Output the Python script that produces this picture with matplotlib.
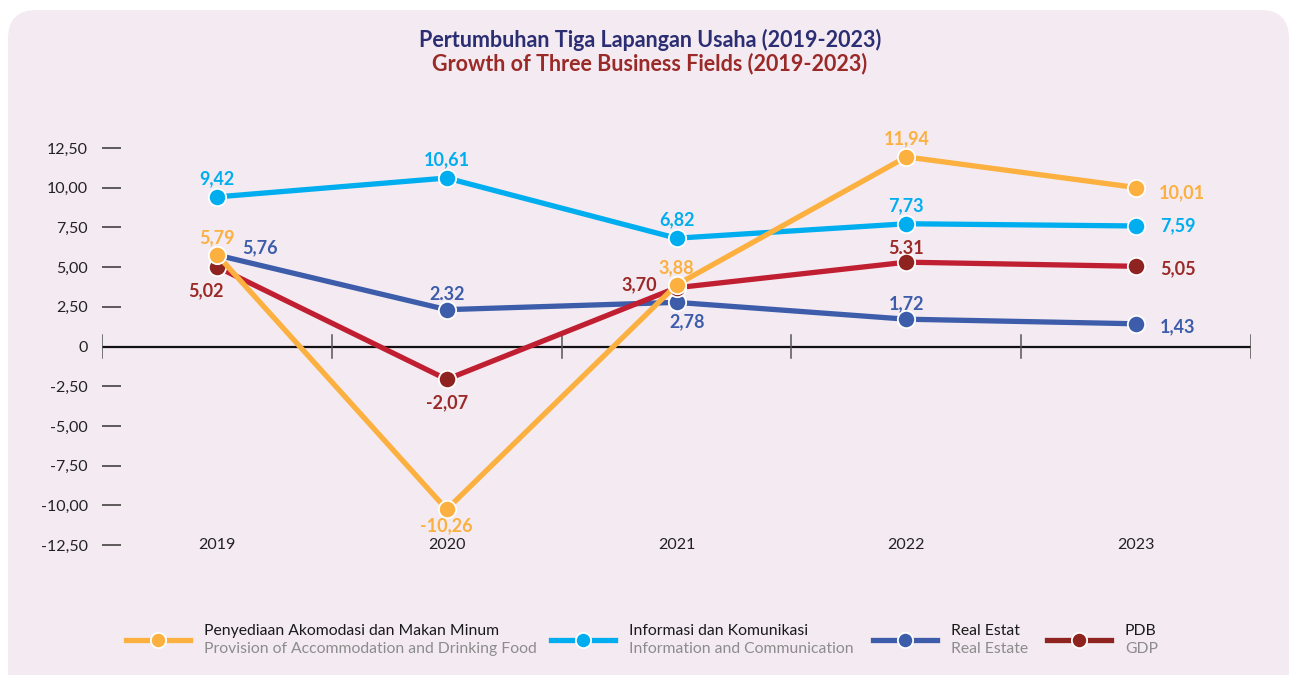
import matplotlib.pyplot as plt
from matplotlib.patches import FancyBboxPatch
from matplotlib.lines import Line2D

plt.rcParams['font.family'] = ['Lato', 'DejaVu Sans']

years = ['2019', '2020', '2021', '2022', '2023']
akomodasi = [5.79, -10.26, 3.88, 11.94, 10.01]
infokom = [9.42, 10.61, 6.82, 7.73, 7.59]
real_estat = [5.76, 2.32, 2.78, 1.72, 1.43]
pdb = [5.02, -2.07, 3.70, 5.31, 5.05]

# value labels as printed
akomodasi_lbl = ['5,79', '-10,26', '3,88', '11,94', '10,01']
infokom_lbl = ['9,42', '10,61', '6,82', '7,73', '7,59']
real_estat_lbl = ['5,76', '2.32', '2,78', '1,72', '1,43']
pdb_lbl = ['5,02', '-2,07', '3,70', '5.31', '5,05']

yticks = [12.5, 10, 7.5, 5, 2.5, 0, -2.5, -5, -7.5, -10, -12.5]
ytick_lbl = ['12,50', '10,00', '7,50', '5,00', '2,50', '0',
             '-2,50', '-5,00', '-7,50', '-10,00', '-12,50']

C_AKO = '#FBB03F'
C_INFO = '#00AEEF'
C_RE = '#3D5DAA'
C_PDB_LINE = '#C01F32'
C_PDB_DOT = '#8E2320'
C_PDB_TXT = '#9A2A27'
BG = '#F4EAF2'

W, H = 1290, 675
fig = plt.figure(figsize=(12.9, 6.75), dpi=100)
fig.patch.set_facecolor('white')

# rounded background card, bottom edge runs off the figure
panel = FancyBboxPatch((8 / W, -0.05), (1289 - 8) / W, (H - 10) / H + 0.05,
                       boxstyle='round,pad=0,rounding_size=0.022',
                       transform=fig.transFigure, facecolor=BG,
                       edgecolor='none', zorder=-5, mutation_aspect=W / H)
fig.patches.append(panel)

fig.text(650 / W, 1 - 40 / H, 'Pertumbuhan Tiga Lapangan Usaha (2019-2023)',
         ha='center', va='center', fontsize=15.5, fontweight='bold', color='#2B2E72')
fig.text(650 / W, 1 - 64 / H, 'Growth of Three Business Fields (2019-2023)',
         ha='center', va='center', fontsize=15.5, fontweight='bold', color='#9A2A27')

# axes: left edge at 102px, right at 1251px, y from 148px (12.5) to 545px (-12.5)
ax = fig.add_axes([102 / W, 1 - 545 / H, (1251 - 102) / W, (545 - 148) / H])
ax.set_facecolor('none')
ax.set_xlim(0, 5)
ax.set_ylim(-12.5, 12.5)
for s in ax.spines.values():
    s.set_visible(False)

ax.set_yticks(yticks)
ax.set_yticklabels(ytick_lbl)
ax.tick_params(axis='y', direction='in', length=14, width=1.1, color='#333333',
               pad=10, labelsize=11.5, labelcolor='#222222')
ax.set_xticks([])

# zero line with band separators
ax.axhline(0, color='#111111', lw=1.6, zorder=2)
for e in range(6):
    ax.plot([e, e], [-0.7, 0.7], color='#555555', lw=1.1, zorder=2)

xs = [i + 0.5 for i in range(len(years))]
for x, yr in zip(xs, years):
    ax.text(x, -12.5, yr, ha='center', va='center', fontsize=11.5, color='#222222')

series = [
    (infokom, infokom_lbl, C_INFO, C_INFO, C_INFO,
     [(0, 13), (0, 13), (0, 13), (0, 13), (30, 0)]),
    (real_estat, real_estat_lbl, C_RE, C_RE, C_RE,
     [(31, 5), (0, 11), (8, -14), (0, 11), (30, -2)]),
    (pdb, pdb_lbl, C_PDB_LINE, C_PDB_DOT, C_PDB_TXT,
     [(-8, -17), (0, -17), (-27, 2), (0, 10), (30, -2)]),
    (akomodasi, akomodasi_lbl, C_AKO, C_AKO, C_AKO,
     [(0, 12), (0, -12), (0, 12), (0, 13), (33, -4)]),
]

for z, (vals, lbls, lc, mc, tc, offs) in enumerate(series):
    ax.plot(xs, vals, color=lc, lw=3.8, zorder=3 + z * 2,
            solid_capstyle='round', solid_joinstyle='round')
    ax.plot(xs, vals, 'o', ms=12.5, color=mc, mec='white', mew=1.3,
            zorder=4 + z * 2)
    for x, v, t, off in zip(xs, vals, lbls, offs):
        ax.annotate(t, (x, v), xytext=off, textcoords='offset points',
                    ha='center', va='center', fontsize=13,
                    fontweight='bold', color=tc, zorder=20)

# legend along the bottom
legend_items = [
    (126, C_AKO, C_AKO, 'Penyediaan Akomodasi dan Makan Minum',
     'Provision of Accommodation and Drinking Food'),
    (551, C_INFO, C_INFO, 'Informasi dan Komunikasi',
     'Information and Communication'),
    (873, C_RE, C_RE, 'Real Estat', 'Real Estate'),
    (1047, C_PDB_DOT, C_PDB_DOT, 'PDB', 'GDP'),
]
ly = 1 - 640 / H
for x0, lc, mc, t1, t2 in legend_items:
    fig.add_artist(Line2D([x0 / W, (x0 + 64) / W], [ly, ly], color=lc, lw=3.8,
                          transform=fig.transFigure))
    fig.add_artist(Line2D([(x0 + 32) / W], [ly], marker='o', ms=11, color=mc,
                          mec='white', mew=1.3, transform=fig.transFigure))
    fig.text((x0 + 78) / W, 1 - 631 / H, t1, ha='left', va='center',
             fontsize=11.3, color='#1A1A1A')
    fig.text((x0 + 78) / W, 1 - 649 / H, t2, ha='left', va='center',
             fontsize=11.3, color='#8C8C8C')

fig.savefig('out.png', dpi=100, facecolor=fig.get_facecolor())
